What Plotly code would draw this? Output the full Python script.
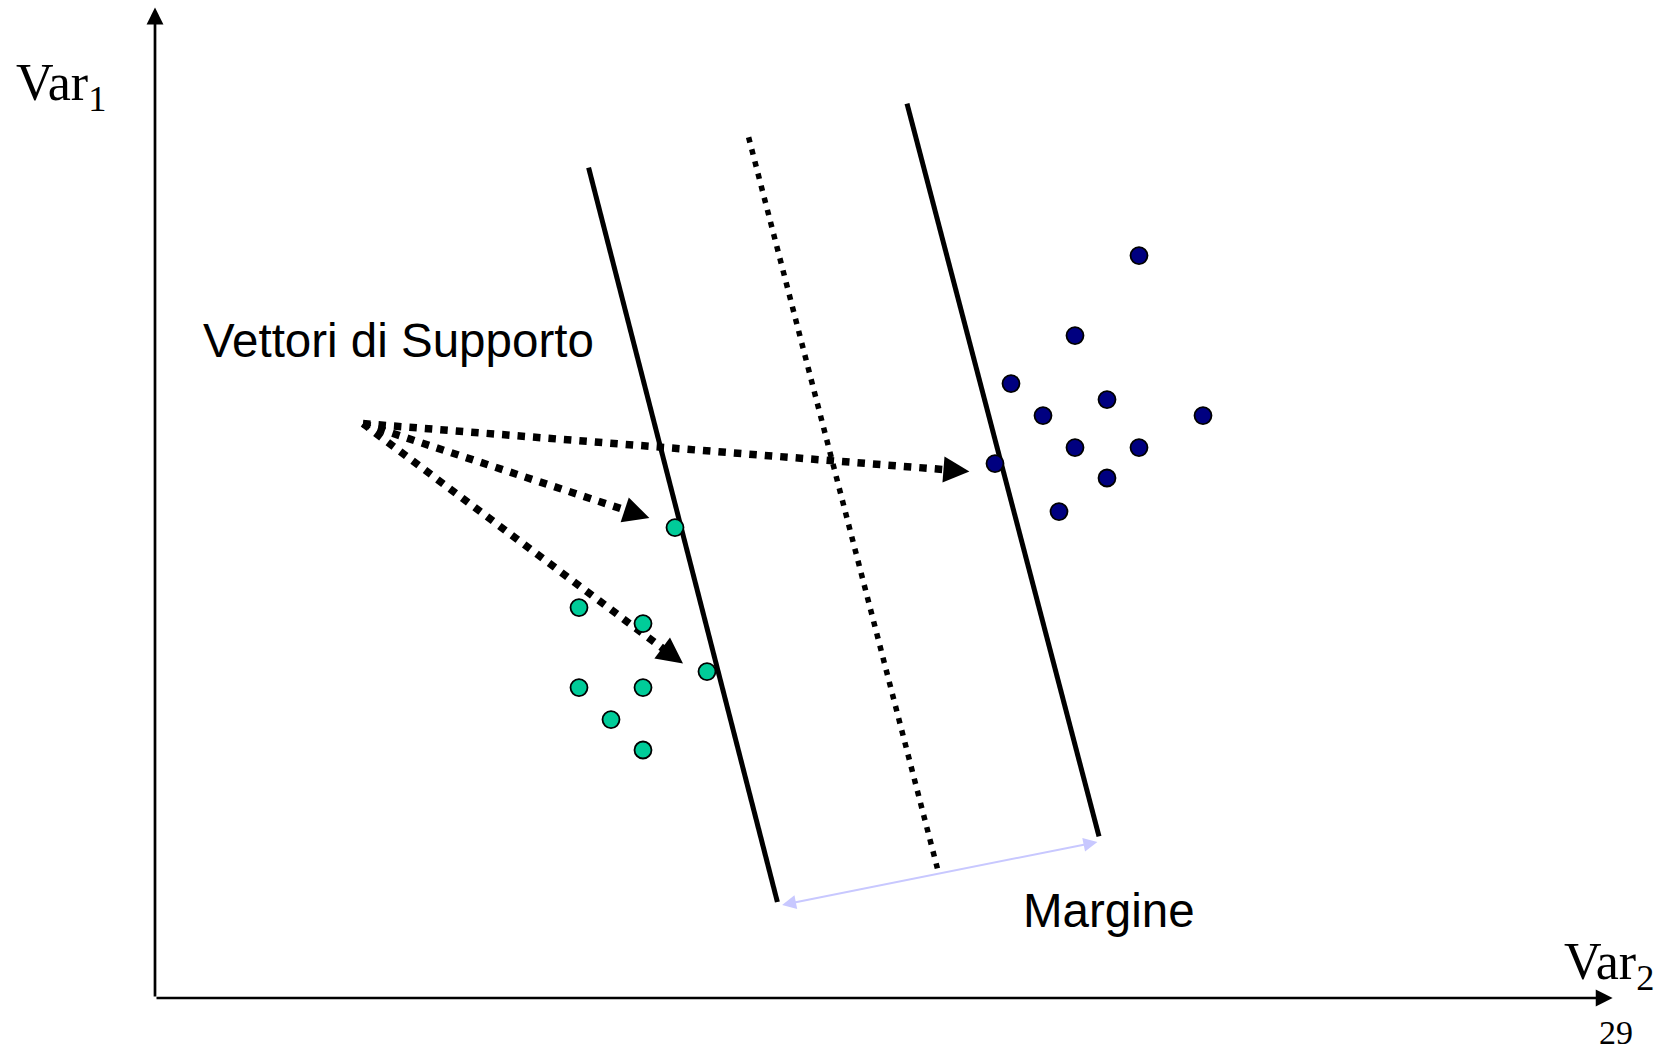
import numpy as np
import plotly.graph_objects as go

# ---- data (chart units: 1 unit = 16 px of the reference, origin at axes corner) ----
class_a_x = [32.5, 26.5, 30.5, 34.5, 26.5, 30.5, 28.5, 30.5]
class_a_y = [29.4, 24.4, 23.4, 20.4, 19.4, 19.4, 17.4, 15.5]

class_b_x = [61.5, 57.5, 53.5, 55.5, 59.5, 65.5, 57.5, 61.5, 52.5, 59.5, 56.5]
class_b_y = [46.4, 41.4, 38.4, 36.4, 37.4, 36.4, 34.4, 34.4, 33.4, 32.5, 30.4]

boundary_left_x = [27.1, 38.9]
boundary_left_y = [51.9, 6.0]
hyperplane_x = [37.1, 48.9]
hyperplane_y = [53.8, 8.1]
boundary_right_x = [47.0, 59.0]
boundary_right_y = [55.9, 10.1]

margin_x = [39.1, 58.9]
margin_y = [5.8, 9.75]

pointer_start = (13.0, 35.9)
pointer_tip_x = [50.9, 30.9, 33.0]
pointer_tip_y = [32.9, 30.0, 20.9]

axis_x_end = 91.1
axis_y_end = 61.9

x_range = [-9.6875, 94.5625]
y_range = [-3.3125, 62.375]

label_support = "Vettori di Supporto"
label_margin = "Margine"
label_var1 = "Var<sub>1</sub>"
label_var2 = "Var<sub>2</sub>"
label_page = "29"

fig = go.Figure()

# hyperplane + margin boundaries
fig.add_trace(go.Scatter(x=boundary_left_x, y=boundary_left_y, mode="lines",
                         line=dict(color="black", width=5), hoverinfo="skip"))
fig.add_trace(go.Scatter(x=boundary_right_x, y=boundary_right_y, mode="lines",
                         line=dict(color="black", width=5), hoverinfo="skip"))
fig.add_trace(go.Scatter(x=hyperplane_x, y=hyperplane_y, mode="lines",
                         line=dict(color="black", width=5.5, dash="5.5px,7px"), hoverinfo="skip"))

# dotted pointer arrows (bodies)
sx, sy = pointer_start
annotations = []
for tx, ty in zip(pointer_tip_x, pointer_tip_y):
    d = np.array([tx - sx, ty - sy])
    u = d / np.linalg.norm(d)
    ex, ey = np.array([tx, ty]) - 1.2 * u
    fig.add_trace(go.Scatter(x=[sx, ex], y=[sy, ey], mode="lines",
                             line=dict(color="black", width=7.5, dash="7.5px,8px"),
                             hoverinfo="skip"))
    bx, by = np.array([tx, ty]) - 1.0 * u
    annotations.append(dict(x=tx, y=ty, ax=bx, ay=by, xref="x", yref="y",
                            axref="x", ayref="y", text="", showarrow=True,
                            arrowhead=2, arrowwidth=4, arrowsize=1.3,
                            arrowcolor="black", standoff=0))

# points
fig.add_trace(go.Scatter(x=class_a_x, y=class_a_y, mode="markers",
                         marker=dict(size=17, color="#00cc99",
                                     line=dict(color="black", width=1.8)),
                         hoverinfo="skip"))
fig.add_trace(go.Scatter(x=class_b_x, y=class_b_y, mode="markers",
                         marker=dict(size=17, color="#000080",
                                     line=dict(color="black", width=1.8)),
                         hoverinfo="skip"))

# axes arrows
annotations.append(dict(x=axis_x_end, y=0, ax=0, ay=0, xref="x", yref="y",
                        axref="x", ayref="y", text="", showarrow=True,
                        arrowhead=2, arrowwidth=2.7, arrowsize=1.25,
                        arrowcolor="black", standoff=0))
annotations.append(dict(x=0, y=axis_y_end, ax=0, ay=0, xref="x", yref="y",
                        axref="x", ayref="y", text="", showarrow=True,
                        arrowhead=2, arrowwidth=2.7, arrowsize=1.25,
                        arrowcolor="black", standoff=0))

# margin double arrow
annotations.append(dict(x=margin_x[1], y=margin_y[1], ax=margin_x[0], ay=margin_y[0],
                        xref="x", yref="y", axref="x", ayref="y", text="",
                        showarrow=True, arrowhead=2, startarrowhead=2,
                        arrowside="end+start", arrowwidth=2, arrowsize=1.4,
                        startarrowsize=1.4, arrowcolor="#c8c8ff", standoff=0))

sans = "Liberation Sans, Arial, sans-serif"
serif = "Liberation Serif, Times New Roman, serif"
annotations += [
    dict(x=2.9, y=41.1, xref="x", yref="y", text=label_support, showarrow=False,
         xanchor="left", yanchor="middle", font=dict(family=sans, size=47.5, color="black")),
    dict(x=54.1, y=5.5, xref="x", yref="y", text=label_margin, showarrow=False,
         xanchor="left", yanchor="middle", font=dict(family=sans, size=47.5, color="black")),
    dict(x=-8.8, y=57.0, xref="x", yref="y", text=label_var1, showarrow=False,
         xanchor="left", yanchor="middle", font=dict(family=serif, size=52, color="black")),
    dict(x=87.95, y=2.06, xref="x", yref="y", text=label_var2, showarrow=False,
         xanchor="left", yanchor="middle", font=dict(family=serif, size=52, color="black")),
    dict(x=91.3, y=-2.15, xref="x", yref="y", text=label_page, showarrow=False,
         xanchor="center", yanchor="middle", font=dict(family=serif, size=34, color="black")),
]

fig.update_layout(
    width=1668, height=1051, autosize=False,
    margin=dict(l=0, r=0, t=0, b=0, pad=0),
    paper_bgcolor="white", plot_bgcolor="white",
    showlegend=False, hovermode=False,
    xaxis=dict(range=x_range, visible=False, fixedrange=True),
    yaxis=dict(range=y_range, visible=False, fixedrange=True),
    annotations=annotations,
)

fig.write_html("out.html", config={"displayModeBar": False},
               post_script="document.body.style.margin='0';document.body.style.overflow='hidden';")
